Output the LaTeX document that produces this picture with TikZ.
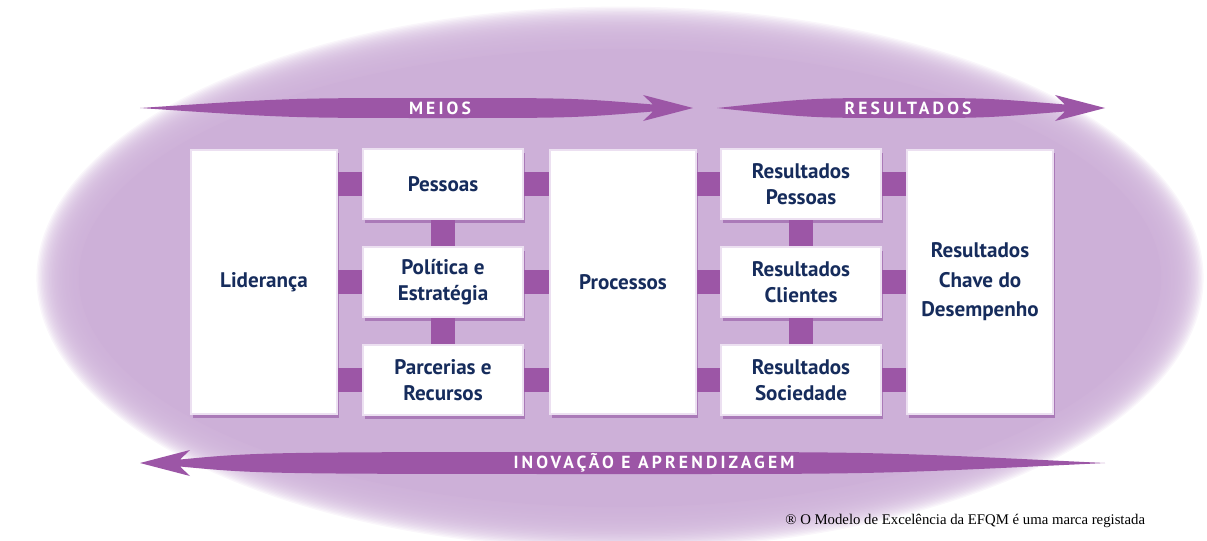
\documentclass[tikz,border=0pt]{standalone}
\usepackage{fontspec}
\setmainfont{PT Sans}
\newfontfamily\tagfont{PT Sans}[LetterSpace=18]
\newfontfamily\notefont{Liberation Serif}
\usetikzlibrary{shadows}

\definecolor{lav}{RGB}{205,176,216}
\definecolor{barcol}{RGB}{156,86,166}
\definecolor{navy}{RGB}{22,44,92}
\definecolor{frame}{RGB}{236,224,241}
\definecolor{shade}{RGB}{170,122,184}

\begin{document}
\begin{tikzpicture}[
    x=0.025cm, y=-0.025cm,
    box/.style={draw=frame, line width=2pt, fill=white, text=navy, align=center,
        font=\bfseries\fontsize{15}{18.5}\selectfont,
        drop shadow={shadow xshift=1.5pt, shadow yshift=-2.5pt, fill=shade, opacity=1}},
    tall/.style={box, minimum width=3.65cm, minimum height=6.6cm},
    small/.style={box, minimum width=4cm, minimum height=1.75cm},
    bar/.style={barcol, line width=0.6cm},
    tag/.style={text=white, font=\tagfont\bfseries\fontsize{12.5}{14}\selectfont}
]
\useasboundingbox (0,0) rectangle (1207,540);

% soft edged background
\foreach \i [evaluate=\i as \ra using 400+(15-\i)*1,
             evaluate=\i as \rb using 178+(15-\i)*1] in {0,...,29}
    \fill[lav, opacity=0.11] (620,278) ellipse [x radius=\ra pt, y radius=\rb pt];
\fill[lav] (620,278) ellipse [x radius=385pt, y radius=163pt];

% arrows
\foreach \xa/\xb/\xc/\y/\d/\h in {140/693/438/108/1/10, 717/1105/906/108/1/10, 1105/140/652/463/-1/11}
    \fill[barcol] (\xa,\y)
        .. controls ({(\xa+\xc)/2},{\y-\h}) .. (\xc,{\y-\h})
        .. controls ({\xb-(\d)*120},{\y-\h}) .. ({\xb-(\d)*40},{\y-3.5})
        -- ({\xb-(\d)*50},{\y-13}) -- (\xb,\y) -- ({\xb-(\d)*50},{\y+13})
        -- ({\xb-(\d)*40},{\y+3.5})
        .. controls ({\xb-(\d)*120},{\y+\h}) .. (\xc,{\y+\h})
        .. controls ({(\xa+\xc)/2},{\y+\h}) .. (\xa,\y) -- cycle;

\node[tag] (meios) at (440,108) {MEIOS};
\node[tag] (resultados) at (908,108) {RESULTADOS};
\node[tag] (inovacao) at (654,463) {INOVAÇÃO E APRENDIZAGEM};

% criteria
\node[tall] (lid) at (264,282) {Liderança};
\node[small] (pes) at (443,184) {Pessoas};
\node[small] (pol) at (443,282) {Política e\\Estratégia};
\node[small] (par) at (443,380) {Parcerias e\\Recursos};
\node[tall] (pro) at (623,282) {Processos};
\node[small] (rpes) at (801,184) {Resultados\\Pessoas};
\node[small] (rcli) at (801,282) {Resultados\\Clientes};
\node[small] (rsoc) at (801,380) {Resultados\\Sociedade};
\node[tall, font=\bfseries\fontsize{15}{21}\selectfont] (rcha) at (980,282) {Resultados\\Chave do\\Desempenho};

% links
\foreach \a in {pes,pol,par} {
    \draw[bar] (\a.west) -- (\a.west -| lid.east);
    \draw[bar] (\a.east) -- (\a.east -| pro.west);
}
\foreach \a in {rpes,rcli,rsoc} {
    \draw[bar] (\a.west) -- (\a.west -| pro.east);
    \draw[bar] (\a.east) -- (\a.east -| rcha.west);
}
\draw[bar] (pes.south) -- (pol.north);
\draw[bar] (pol.south) -- (par.north);
\draw[bar] (rpes.south) -- (rcli.north);
\draw[bar] (rcli.south) -- (rsoc.north);

\node[anchor=east, font=\notefont\fontsize{10.5}{12}\selectfont] (nota) at (1150,521)
    {® O Modelo de Excelência da EFQM é uma marca registada};

\end{tikzpicture}
\end{document}
